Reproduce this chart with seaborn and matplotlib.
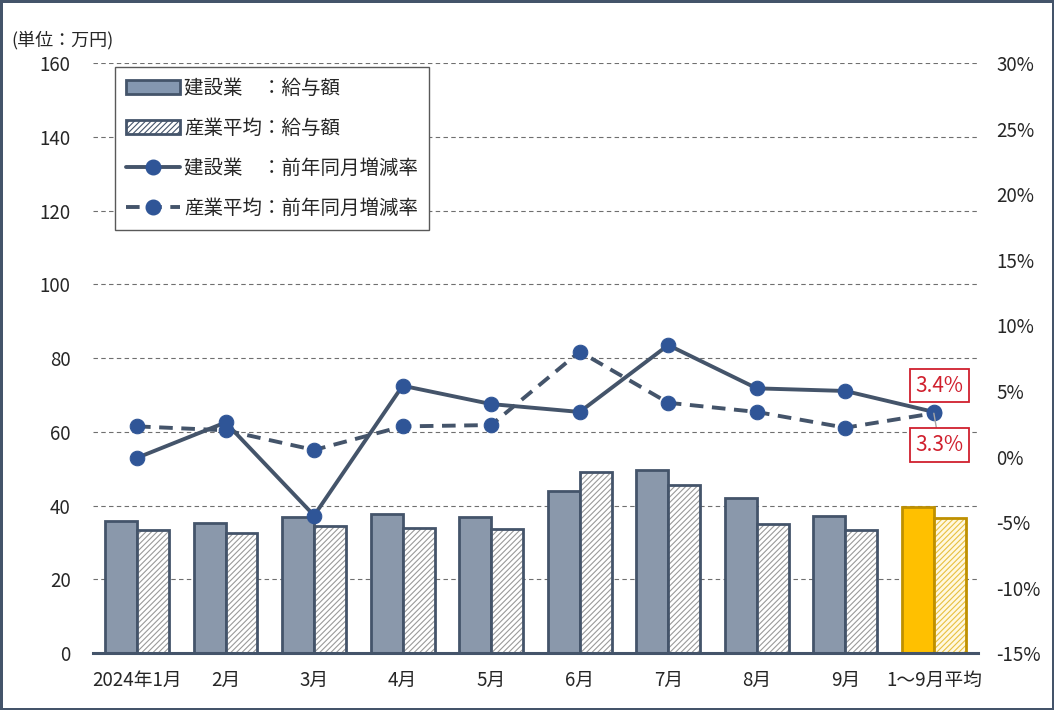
import numpy as np
import pandas as pd
import matplotlib
matplotlib.use("Agg")
import matplotlib.pyplot as plt
from matplotlib.patches import Patch, Rectangle
from matplotlib.lines import Line2D
import seaborn as sns

months = ["2024年1月", "2月", "3月", "4月", "5月", "6月", "7月", "8月", "9月", "1～9月平均"]
construction_pay = [35.8, 35.3, 36.9, 37.7, 36.9, 43.9, 49.6, 42.0, 37.2, 39.6]
industry_pay = [33.4, 32.5, 34.4, 33.9, 33.6, 49.1, 45.6, 35.0, 33.4, 36.6]
construction_rate = [-0.1, 2.6, -4.5, 5.4, 4.0, 3.4, 8.5, 5.2, 5.0, 3.4]
industry_rate = [2.3, 2.0, 0.5, 2.3, 2.4, 8.0, 4.1, 3.4, 2.2, 3.3]
series_names = ["建設業　：給与額", "産業平均：給与額", "建設業　：前年同月増減率", "産業平均：前年同月増減率"]
left_ticks = [0, 20, 40, 60, 80, 100, 120, 140, 160]
right_ticks = [-15, -10, -5, 0, 5, 10, 15, 20, 25, 30]

sns.set_theme(style="white")
plt.rcParams['font.family'] = ['Noto Sans CJK JP', 'DejaVu Sans']
plt.rcParams['hatch.linewidth'] = 0.8

DARK = "#44546A"
BAR_BLUE = "#8497B0"
MARK = "#2F5597"
GOLD = "#FFC000"
GOLD_EDGE = "#BF9000"
HATCH_GRAY = "#9A9A9A"
RED = "#D0202E"
TXT = "#262626"

fig = plt.figure(figsize=(10.54, 7.10), dpi=100, edgecolor=DARK, linewidth=2.5)
ax = fig.add_axes([0.088, 0.080, 0.840, 0.831])

df = pd.DataFrame({
    "month": months * 2,
    "value": construction_pay + industry_pay,
    "series": [series_names[0]] * len(months) + [series_names[1]] * len(months),
})
sns.barplot(data=df, x="month", y="value", hue="series", ax=ax,
            palette=[BAR_BLUE, "white"], width=0.72, gap=0, legend=False,
            edgecolor=DARK, linewidth=2, zorder=3)

n = len(months)
bars = ax.patches
cons_bars = bars[:n]
ind_bars = bars[n:2 * n]
for i, p in enumerate(cons_bars):
    if i == n - 1:
        p.set_facecolor(GOLD)
        p.set_edgecolor(GOLD_EDGE)
for i, p in enumerate(ind_bars):
    edge = GOLD_EDGE if i == n - 1 else DARK
    hcol = "#E8C040" if i == n - 1 else HATCH_GRAY
    face = "#FFF8E0" if i == n - 1 else "white"
    p.set_facecolor(face)
    p.set_edgecolor(hcol)
    p.set_hatch("//////")
    p.set_linewidth(0)
    outline = Rectangle(p.get_xy(), p.get_width(), p.get_height(), fill=False,
                        edgecolor=edge, linewidth=2, zorder=4)
    ax.add_patch(outline)

ax.set_ylim(0, 160)
ax.set_yticks(left_ticks)
ax.set_xlim(-0.5, n - 0.5)
ax.set_xlabel("")
ax.set_ylabel("")
ax.grid(axis="y", color="#6F6F6F", linestyle=(0, (4, 3)), linewidth=0.8, zorder=0)
ax.grid(axis="x", visible=False)
for s in ["top", "right", "left"]:
    ax.spines[s].set_visible(False)
ax.spines["bottom"].set_color(DARK)
ax.spines["bottom"].set_linewidth(2.2)
ax.spines["bottom"].set_zorder(5)
ax.tick_params(axis="y", length=0, pad=16, labelsize=13.5, labelcolor=TXT)
ax.tick_params(axis="x", length=0, pad=12, labelsize=13.5, labelcolor=TXT)

ax2 = ax.twinx()
xpos = np.arange(n)
sns.lineplot(x=xpos, y=construction_rate, ax=ax2, color=DARK, linewidth=2.8,
             marker="o", markersize=10.5, markerfacecolor=MARK, markeredgecolor=MARK, zorder=6)
sns.lineplot(x=xpos, y=industry_rate, ax=ax2, color=DARK, linewidth=2.8,
             marker="o", markersize=10.5, markerfacecolor=MARK, markeredgecolor=MARK, zorder=6)
ax2.lines[1].set_dashes((3.5, 2.2))
ax2.set_ylim(-15, 30)
ax2.set_yticks(right_ticks)
ax2.set_yticklabels([f"{t}%" for t in right_ticks])
ax2.set_xlim(-0.5, n - 0.5)
for s in ["top", "right", "left", "bottom"]:
    ax2.spines[s].set_visible(False)
ax2.tick_params(axis="y", length=0, pad=13, labelsize=13.5, labelcolor=TXT)
ax2.grid(False)

# annotations
ax2.annotate(f"{construction_rate[-1]:.1f}%", xy=(xpos[-1], construction_rate[-1]),
             xytext=(4, 19), textcoords="offset points", ha="center", va="center",
             fontsize=15, color=RED,
             bbox=dict(boxstyle="square,pad=0.28", facecolor="white", edgecolor=RED, linewidth=1.3),
             zorder=8)
ax2.annotate(f"{industry_rate[-1]:.1f}%", xy=(xpos[-1], industry_rate[-1]),
             xytext=(4, -23), textcoords="offset points", ha="center", va="center",
             fontsize=15, color=RED,
             bbox=dict(boxstyle="square,pad=0.28", facecolor="white", edgecolor=RED, linewidth=1.3),
             arrowprops=dict(arrowstyle="-", color="#A6A6A6", linewidth=1, shrinkA=0, shrinkB=0),
             zorder=8)

handles = [
    Patch(facecolor=BAR_BLUE, edgecolor=DARK, linewidth=2),
    Patch(facecolor="white", edgecolor=DARK, linewidth=2, hatch="//////"),
    Line2D([], [], color=DARK, linewidth=2.8, marker="o", markersize=10.5,
           markerfacecolor=MARK, markeredgecolor=MARK),
    Line2D([], [], color=DARK, linewidth=2.8, marker="o", markersize=10.5,
           markerfacecolor=MARK, markeredgecolor=MARK, dashes=(3.5, 2.2)),
]
leg = ax2.legend(handles, series_names, loc="upper left", bbox_to_anchor=(0.025, 0.993),
                 borderaxespad=0, fontsize=14, frameon=True, fancybox=False,
                 edgecolor="#595959", framealpha=1, handlelength=2.8, handleheight=0.7,
                 labelspacing=0.98, borderpad=0.55, handletextpad=0.2, labelcolor=TXT)
leg.get_frame().set_linewidth(1)
leg.set_zorder(10)

fig.text(0.011, 0.943, "(単位：万円)", fontsize=13, color=TXT, ha="left", va="center")

fig.savefig("out.png", dpi=100, edgecolor=fig.get_edgecolor())
